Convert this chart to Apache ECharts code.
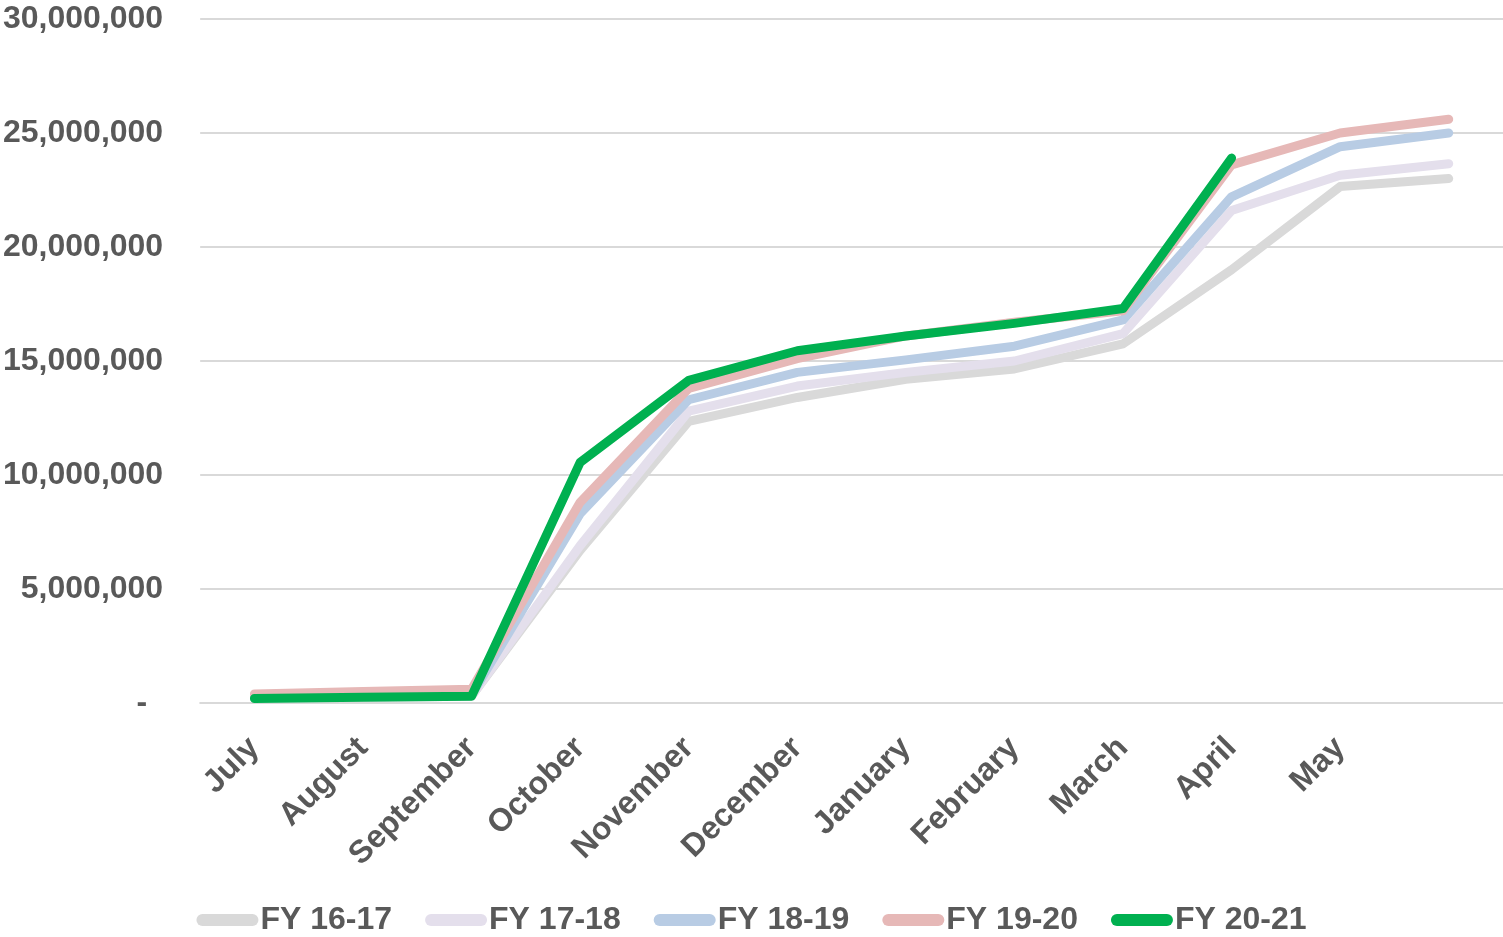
<!DOCTYPE html>
<html>
<head>
<meta charset="utf-8">
<script src="https://cdn.jsdelivr.net/npm/echarts@6/dist/echarts.min.js"></script>
<style>
html,body{margin:0;padding:0;background:#fff;}
#c{width:1503px;height:937px;}
</style>
</head>
<body>
<div id="c"></div>
<script>
var categories = ['July','August','September','October','November','December','January','February','March','April','May',''];
var seriesNames = ['FY 16-17','FY 17-18','FY 18-19','FY 19-20','FY 20-21'];
var fy1617 = [200000,250000,300000,6700000,12350000,13400000,14200000,14650000,15750000,19000000,22650000,23000000];
var fy1718 = [200000,250000,300000,6900000,12800000,13900000,14500000,15000000,16200000,21600000,23150000,23650000];
var fy1819 = [250000,300000,350000,8300000,13300000,14500000,15050000,15650000,16800000,22200000,24400000,25000000];
var fy1920 = [400000,500000,600000,8800000,13800000,15100000,16100000,16700000,17200000,23600000,25000000,25600000];
var fy2021 = [200000,250000,300000,10550000,14150000,15450000,16100000,16650000,17300000,23900000,null,null];
var yTicks = [0,5000000,10000000,15000000,20000000,25000000,30000000];

var colors = ['#d9d9d9','#e4dfec','#b8cce4','#e6b8b7','#00b050'];
var dataList = [fy1617, fy1718, fy1819, fy1920, fy2021];
var font = 'Liberation Sans, Arial, sans-serif';

var series = seriesNames.map(function(n, i){
  return {
    name: n, type: 'line', data: dataList[i], symbol: 'none', z: 2 + i,
    lineStyle: {color: colors[i], width: 9, cap: 'round', join: 'round'},
    itemStyle: {color: colors[i]},
    connectNulls: false, animation: false
  };
});

var chart = echarts.init(document.getElementById('c'), null, {renderer: 'canvas'});
chart.setOption({
  animation: false,
  grid: {left: 200, right: 0, top: 19, bottom: 234, containLabel: false},
  legend: {
    data: seriesNames, top: 899, left: 'center', itemGap: 33,
    itemWidth: 62, itemHeight: 12,
    icon: 'path://M6,0 H56 A6,6 0 0 1 56,12 H6 A6,6 0 0 1 6,0 Z',
    textStyle: {fontFamily: font, fontSize: 32, fontWeight: 'bold', color: '#595959', padding: [0,0,0,-3]}
  },
  xAxis: {
    type: 'category', data: categories, boundaryGap: true,
    axisLine: {show: true, lineStyle: {color: '#d9d9d9', width: 2}},
    axisTick: {show: false},
    axisLabel: {rotate: 45, interval: 0, margin: 40, fontFamily: font, fontSize: 32, fontWeight: 'bold', color: '#595959'}
  },
  yAxis: {
    type: 'value', min: yTicks[0], max: yTicks[yTicks.length-1], interval: yTicks[1]-yTicks[0],
    axisLine: {show: false}, axisTick: {show: false},
    splitLine: {lineStyle: {color: '#d9d9d9', width: 2}},
    axisLabel: {
      margin: 37, fontFamily: font, fontSize: 32, fontWeight: 'bold', color: '#595959',
      formatter: function(v){ return v === 0 ? '{z|-}' : v.toLocaleString('en-US'); },
      rich: {z: {fontFamily: font, fontSize: 32, fontWeight: 'bold', color: '#595959', padding: [0,16,0,0]}}
    }
  },
  series: series
});
</script>
</body>
</html>
